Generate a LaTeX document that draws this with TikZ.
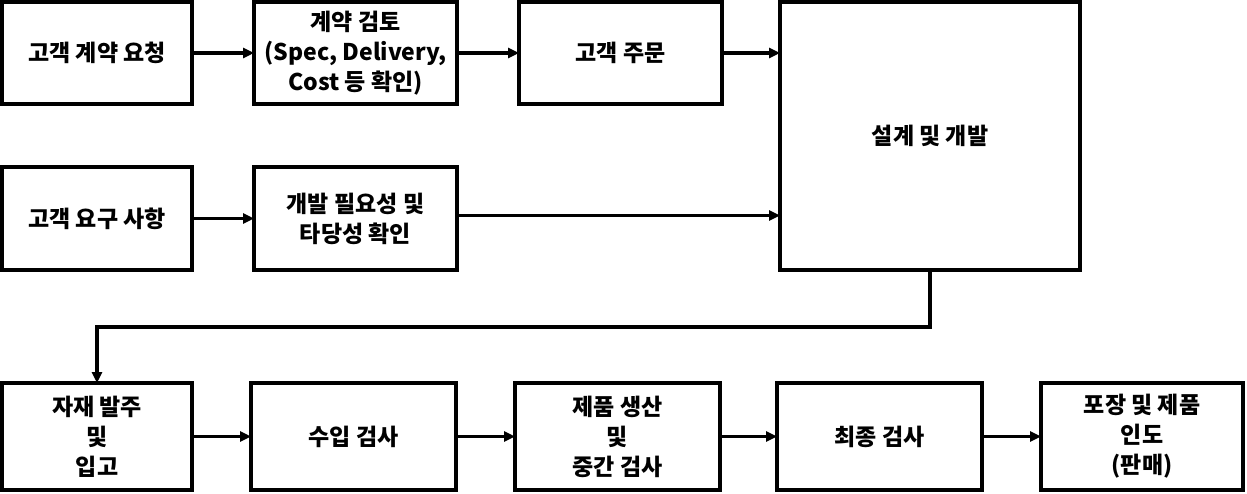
\documentclass[tikz,border=0pt]{standalone}
\usepackage{fontspec}
\setmainfont{Noto Sans CJK KR}
\usetikzlibrary{arrows.meta, positioning}

\begin{document}
\begin{tikzpicture}[
    x=1pt, y=1pt,
    >={Triangle[length=11pt, width=10pt]},
    every node/.style={font=\fontsize{23}{30}\selectfont\bfseries},
    box/.style={rectangle, draw=black, line width=4pt, fill=white, outer sep=0pt, inner sep=2pt, align=center},
    arrow/.style={->, line width=3.5pt, color=black},
]
\useasboundingbox (0,0) rectangle (1247,-494);

% --- Upper rows ---
\node[box, minimum width=190pt, minimum height=102pt] (req) at (97,-53) {고객 계약 요청};
\node[box, minimum width=203pt, minimum height=102pt, right=62pt of req] (review) {계약 검토\\(Spec, Delivery,\\Cost 등 확인)};
\node[box, minimum width=203pt, minimum height=102pt, right=62pt of review] (order) {고객 주문};
\node[box, minimum width=300pt, minimum height=268pt, right=58pt of order.north east, anchor=north west] (design) {설계 및 개발};

\node[box, minimum width=190pt, minimum height=103pt, below=63pt of req] (needs) {고객 요구 사항};
\node[box, minimum width=203pt, minimum height=103pt, right=62pt of needs] (check) {개발 필요성 및\\타당성 확인};

% --- Lower row ---
\node[box, minimum width=190pt, minimum height=107pt, below=113pt of needs] (material) {자재 발주\\및\\입고};
\node[box, minimum width=205pt, minimum height=107pt, right=59pt of material] (incoming) {수입 검사};
\node[box, minimum width=205pt, minimum height=107pt, right=59pt of incoming] (prod) {제품 생산\\및\\중간 검사};
\node[box, minimum width=205pt, minimum height=107pt, right=57pt of prod] (final) {최종 검사};
\node[box, minimum width=202pt, minimum height=107pt, right=59pt of final] (ship) {포장 및 제품\\인도\\(판매)};

% --- Arrows ---
\draw[arrow] (req) -- (review);
\draw[arrow] (review) -- (order);
\draw[arrow] (order.east) -- (order.east -| design.west);
\draw[arrow] (needs) -- (check);
\draw[arrow] ([yshift=3pt]check.east) -- ([yshift=3pt]check.east -| design.west);
\draw[arrow] (design.south) -- ++(0,-57) -| (material.north);
\draw[arrow] (material) -- (incoming);
\draw[arrow] (incoming) -- (prod);
\draw[arrow] (prod) -- (final);
\draw[arrow] (final) -- (ship);

\end{tikzpicture}
\end{document}
